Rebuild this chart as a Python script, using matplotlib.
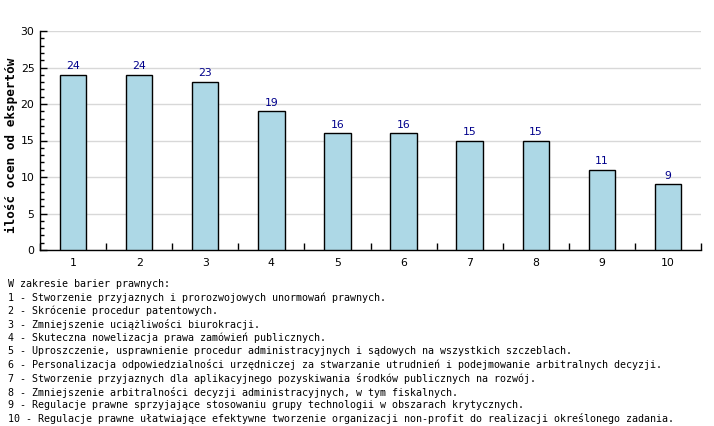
import matplotlib
matplotlib.use("Agg")
import matplotlib.pyplot as plt
from matplotlib.ticker import MultipleLocator

categories = ["1", "2", "3", "4", "5", "6", "7", "8", "9", "10"]
values = [24, 24, 23, 19, 16, 16, 15, 15, 11, 9]
legend_lines = [
    "W zakresie barier prawnych:",
    "1 - Stworzenie przyjaznych i prorozwojowych unormowań prawnych.",
    "2 - Skrócenie procedur patentowych.",
    "3 - Zmniejszenie uciążliwości biurokracji.",
    "4 - Skuteczna nowelizacja prawa zamówień publicznych.",
    "5 - Uproszczenie, usprawnienie procedur administracyjnych i sądowych na wszystkich szczeblach.",
    "6 - Personalizacja odpowiedzialności urzędniczej za stwarzanie utrudnień i podejmowanie arbitralnych decyzji.",
    "7 - Stworzenie przyjaznych dla aplikacyjnego pozyskiwania środków publicznych na rozwój.",
    "8 - Zmniejszenie arbitralności decyzji administracyjnych, w tym fiskalnych.",
    "9 - Regulacje prawne sprzyjające stosowaniu grupy technologii w obszarach krytycznych.",
    "10 - Regulacje prawne ułatwiające efektywne tworzenie organizacji non-profit do realizacji określonego zadania.",
]

W, H = 714, 426
fig = plt.figure(figsize=(W / 100, H / 100), dpi=100)
ax = fig.add_axes([40 / W, 1 - 250 / H, (701 - 40) / W, (250 - 31) / H])

x = list(range(len(values)))
ax.bar(x, values, width=0.4, color="#add8e6", edgecolor="black", linewidth=1, zorder=3)
for xi, v in zip(x, values):
    ax.text(xi, v + 0.5, str(v), ha="center", va="bottom", color="#00008b", fontsize=7.8)

ax.set_xlim(-0.5, len(values) - 0.5)
ax.set_ylim(0, 30)
ax.yaxis.set_major_locator(MultipleLocator(5))
ax.yaxis.set_minor_locator(MultipleLocator(1))
ax.grid(axis="y", color="#d8d8d8", linewidth=1, zorder=0)

# x ticks sit between categories, labels centred under the bars
ax.set_xticks([i - 0.5 for i in range(len(values) + 1)])
ax.set_xticklabels([])
ax.set_xticks(x, minor=True)
ax.set_xticklabels(categories, minor=True)
ax.tick_params(axis="x", which="major", direction="in", length=5, width=1)
ax.tick_params(axis="x", which="minor", length=0, pad=6, labelsize=7.8)
ax.tick_params(axis="y", which="major", direction="in", length=5, width=1, labelsize=7.8, pad=4)
ax.tick_params(axis="y", which="minor", direction="in", length=3, width=1)

for s in ["top", "right"]:
    ax.spines[s].set_visible(False)
ax.spines["left"].set_linewidth(1)
ax.spines["bottom"].set_linewidth(1)

ax.set_ylabel("ilość ocen od ekspertów", fontsize=9.1, fontweight="bold",
              family="DejaVu Sans Mono", va="center")
ax.yaxis.set_label_coords(-29 / 661, 105 / 219)

for i, line in enumerate(legend_lines):
    fig.text(8 / W, 1 - (284 + i * 13.5) / H, line, family="DejaVu Sans Mono",
             fontsize=7.2, va="center", ha="left")

fig.savefig("out.png", dpi=100)
